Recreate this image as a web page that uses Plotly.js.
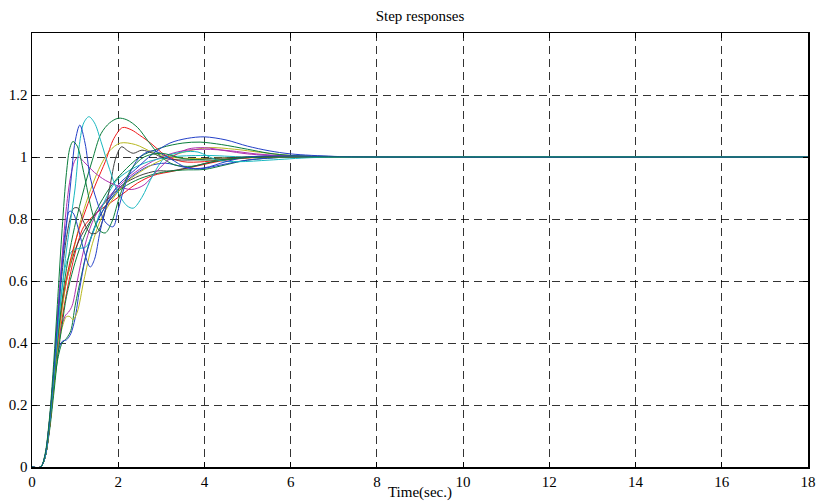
<!DOCTYPE html>
<html>
<head>
<meta charset="utf-8">
<script src="https://cdn.plot.ly/plotly-3.0.1.min.js"></script>
<style>html,body{margin:0;padding:0;background:#fff;}#chart{width:817px;height:501px;}</style>
</head>
<body>
<div id="chart"></div>
<script>
// ---- data ----
const xTicks = [0,2,4,6,8,10,12,14,16,18];
const yTicks = [0,0.2,0.4,0.6,0.8,1,1.2];

const t_g1 = [0,0.2,0.3,0.4,0.5,0.6,0.7,0.8,0.88,0.95,1.05,1.2,1.4,1.55,1.7,1.85,2.05,2.3,2.6,3.0,3.5,4.2,5,6,8,18];
const y_g1 = [0,0,0.04,0.15,0.33,0.55,0.77,0.95,1.03,1.05,1.035,0.95,0.82,0.765,0.755,0.79,0.88,0.96,1.0,1.012,0.995,0.99,0.998,1.0,1,1];

const t_b1 = [0,0.2,0.3,0.4,0.5,0.6,0.7,0.8,0.9,1.0,1.11,1.23,1.35,1.5,1.7,1.88,2.0,2.2,2.5,2.8,3.2,3.6,4.0,4.5,5,6,8,18];
const y_b1 = [0,0,0.035,0.14,0.3,0.48,0.65,0.78,0.92,1.05,1.103,1.045,0.935,0.86,0.79,0.775,0.83,0.925,1.0,1.02,0.995,0.965,0.965,0.985,1.0,1.003,1,1];

const t_c1 = [0,0.2,0.3,0.4,0.5,0.6,0.7,0.8,0.9,1.0,1.1,1.2,1.32,1.45,1.6,1.8,2.0,2.2,2.35,2.55,2.8,3.1,3.5,3.85,4.3,4.8,5.5,6.5,8,18];
const y_c1 = [0,0,0.03,0.13,0.28,0.44,0.58,0.7,0.8,0.9,1.04,1.11,1.13,1.11,1.05,0.96,0.885,0.843,0.835,0.87,0.94,1.0,1.016,1.016,0.99,0.985,0.99,0.998,1,1];

const t_c2 = [0,0.2,0.3,0.4,0.5,0.6,0.7,0.8,0.95,1.1,1.25,1.4,1.6,1.8,2.0,2.3,2.7,3.2,4,5,8,18];
const y_c2 = [0,0,0.03,0.13,0.29,0.45,0.58,0.66,0.7,0.705,0.71,0.75,0.83,0.89,0.93,0.96,0.985,1.0,1.005,1.0,1,1];

const t_m1 = [0,0.2,0.3,0.4,0.5,0.6,0.7,0.8,0.9,1.0,1.08,1.2,1.45,1.7,1.93,2.3,2.6,2.9,3.2,3.6,4.0,4.5,5,6,8,18];
const y_m1 = [0,0,0.035,0.14,0.3,0.5,0.68,0.84,0.94,0.99,1.0,0.985,0.95,0.925,0.91,0.895,0.91,0.955,0.995,1.025,1.03,1.02,1.01,1.002,1,1];

const t_k1 = [0,0.2,0.3,0.4,0.5,0.6,0.7,0.8,0.9,0.97,1.07,1.2,1.35,1.5,1.65,1.8,1.95,2.08,2.22,2.35,2.55,2.8,3.1,3.6,4.2,5,8,18];
const y_k1 = [0,0,0.035,0.14,0.3,0.48,0.63,0.74,0.81,0.835,0.835,0.79,0.755,0.755,0.8,0.9,1.0,1.033,1.02,1.012,1.022,1.012,0.995,0.99,0.995,1.0,1,1];

const t_g2 = [0,0.2,0.3,0.4,0.5,0.6,0.7,0.8,0.95,1.1,1.25,1.4,1.6,1.8,2.0,2.2,2.45,2.7,3.0,3.3,3.7,4.2,5,6,8,18];
const y_g2 = [0,0,0.03,0.12,0.26,0.42,0.54,0.64,0.75,0.84,0.92,0.99,1.075,1.11,1.125,1.12,1.095,1.05,1.0,0.975,0.97,0.985,1.0,1.003,1,1];

const t_r1 = [0,0.2,0.3,0.4,0.5,0.6,0.7,0.8,0.95,1.1,1.3,1.5,1.7,1.9,2.1,2.3,2.5,2.75,3.1,3.5,4.0,4.6,5.5,8,18];
const y_r1 = [0,0,0.03,0.12,0.27,0.42,0.53,0.61,0.7,0.77,0.85,0.92,0.985,1.06,1.095,1.088,1.07,1.045,1.005,0.985,0.985,0.995,1.0,1,1];

const t_o1 = [0,0.2,0.3,0.4,0.5,0.6,0.7,0.8,0.95,1.1,1.25,1.4,1.6,1.8,2.05,2.4,2.8,3.2,3.8,4.5,6,8,18];
const y_o1 = [0,0,0.03,0.12,0.26,0.4,0.51,0.6,0.69,0.78,0.85,0.91,0.975,1.02,1.045,1.04,1.015,1.0,0.995,0.997,1.0,1,1];

const t_r2 = [0,0.2,0.3,0.4,0.5,0.6,0.7,0.8,0.9,1.0,1.1,1.2,1.5,2.0,2.45,2.8,3.3,3.8,4.5,5.5,8,18];
const y_r2 = [0,0,0.03,0.12,0.25,0.38,0.48,0.56,0.63,0.69,0.74,0.775,0.82,0.87,0.916,0.94,0.955,0.97,0.99,1.0,1,1];

const t_b3 = [0,0.2,0.3,0.4,0.5,0.6,0.7,0.78,0.87,0.95,1.1,1.2,1.35,1.45,1.58,1.75,2.0,2.4,2.8,3.2,3.6,4.0,4.5,5.0,5.5,6,7,8,18];
const y_b3 = [0,0,0.035,0.14,0.3,0.5,0.67,0.77,0.825,0.82,0.755,0.7,0.645,0.67,0.76,0.85,0.91,0.96,1.01,1.045,1.06,1.065,1.055,1.035,1.02,1.01,1.002,1,1];

const t_g3 = [0,0.2,0.3,0.4,0.5,0.6,0.7,0.8,1.0,1.2,1.5,1.8,2.1,2.5,3.0,3.5,3.9,4.4,5,5.5,6,7,8,18];
const y_g3 = [0,0,0.03,0.11,0.23,0.36,0.46,0.55,0.66,0.74,0.83,0.9,0.95,1.0,1.03,1.045,1.048,1.04,1.025,1.012,1.005,1.0,1,1];

const t_g4 = [0,0.2,0.3,0.4,0.5,0.6,0.7,0.8,0.9,1.0,1.15,1.3,1.5,1.8,2.1,2.5,3.0,3.5,4.0,4.5,5,6,8,18];
const y_g4 = [0,0,0.03,0.12,0.25,0.35,0.4,0.415,0.44,0.52,0.62,0.71,0.79,0.86,0.9,0.93,0.95,0.958,0.96,0.975,0.99,1.0,1,1];

const t_b4 = [0,0.2,0.3,0.4,0.5,0.6,0.7,0.8,0.9,1.0,1.1,1.25,1.45,1.7,2.0,2.3,2.7,3.1,3.5,3.9,4.4,5,6,8,18];
const y_b4 = [0,0,0.03,0.13,0.27,0.37,0.405,0.41,0.43,0.48,0.57,0.68,0.77,0.84,0.895,0.935,0.97,0.98,0.968,0.962,0.975,0.99,1.0,1,1];

const t_o2 = [0,0.2,0.3,0.4,0.5,0.6,0.7,0.8,0.88,0.95,1.05,1.2,1.4,1.6,1.9,2.2,2.6,3.0,3.5,4.1,4.7,5.3,6,7,8,18];
const y_o2 = [0,0,0.03,0.12,0.26,0.38,0.45,0.485,0.485,0.475,0.5,0.6,0.72,0.8,0.87,0.92,0.96,0.99,1.015,1.03,1.025,1.015,1.005,1.0,1,1];

const t_m2 = [0,0.2,0.3,0.4,0.5,0.6,0.7,0.78,0.85,0.93,1.05,1.2,1.4,1.6,1.9,2.2,2.6,3.0,3.5,4.0,4.6,5.2,6,7,8,18];
const y_m2 = [0,0,0.03,0.12,0.27,0.39,0.46,0.49,0.5,0.52,0.6,0.7,0.79,0.84,0.89,0.93,0.97,1.0,1.02,1.025,1.02,1.01,1.003,1.0,1,1];

const t_k2 = [0,0.2,0.3,0.4,0.5,0.6,0.7,0.8,1.0,1.2,1.5,1.8,2.1,2.5,2.9,3.2,3.6,4.2,5,6,8,18];
const y_k2 = [0,0,0.03,0.12,0.26,0.4,0.52,0.6,0.7,0.76,0.82,0.87,0.91,0.94,0.955,0.955,0.965,0.985,0.998,1.0,1,1];

// MATLAB classic colour order (slightly softened as in the reference)
const cBlue = '#2340c8', cGreen = '#0a7d3c', cRed = '#f01818', cCyan = '#18b8c0',
      cMag = '#b030b0', cOlive = '#b8b820', cGrey = '#404040';

const series = [
  [t_r2, y_r2, cRed], [t_k2, y_k2, cGrey], [t_g4, y_g4, cGreen], [t_b4, y_b4, cBlue],
  [t_o2, y_o2, cOlive], [t_m2, y_m2, cMag], [t_g3, y_g3, cGreen], [t_c2, y_c2, cCyan],
  [t_o1, y_o1, cOlive], [t_r1, y_r1, cRed], [t_g2, y_g2, cGreen], [t_k1, y_k1, cGrey],
  [t_b3, y_b3, cBlue], [t_m1, y_m1, cMag], [t_c1, y_c1, cCyan], [t_b1, y_b1, cBlue],
  [t_g1, y_g1, cGreen]
];

const traces = series.map(s => ({
  x: s[0], y: s[1], type: 'scatter', mode: 'lines',
  line: {color: s[2], width: 1, shape: 'spline', smoothing: 0.9},
  hoverinfo: 'skip', showlegend: false
}));

const serif = 'Liberation Serif, Times New Roman, serif';
const axisCommon = {
  showline: true, mirror: 'ticks', linecolor: '#000', linewidth: 1.5,
  ticks: 'inside', ticklen: 5, tickcolor: '#000',
  showgrid: true, gridcolor: 'rgba(0,0,0,0.8)', gridwidth: 1, griddash: '8px,5px',
  zeroline: false, tickfont: {family: serif, size: 15, color: '#000'}
};

const layout = {
  width: 817, height: 501,
  margin: {l: 32, r: 9, t: 33, b: 34},
  paper_bgcolor: '#fff', plot_bgcolor: '#fff',
  title: {text: 'Step responses', font: {family: serif, size: 15, color: '#000'},
          x: 0.5, xref: 'paper', y: 1 - 16/501, yref: 'container', yanchor: 'middle'},
  xaxis: Object.assign({}, axisCommon, {
    range: [0, 18], tickmode: 'array', tickvals: xTicks, ticktext: xTicks.map(String),
    title: {text: 'Time(sec.)', font: {family: serif, size: 15, color: '#000'}, standoff: 0}
  }),
  yaxis: Object.assign({}, axisCommon, {
    range: [0, 1.4], tickmode: 'array', tickvals: yTicks, ticktext: yTicks.map(String)
  })
};

Plotly.newPlot('chart', traces, layout, {staticPlot: true, displayModeBar: false});
</script>
</body>
</html>
